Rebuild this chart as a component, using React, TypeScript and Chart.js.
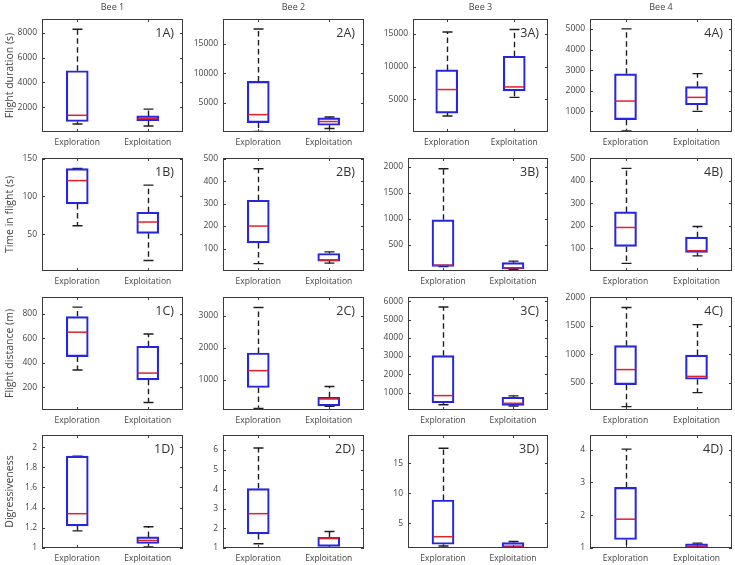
import React, { useEffect, useRef } from 'react';
import { Chart, registerables } from 'chart.js';

Chart.register(...registerables);

// ---------------- data ----------------
const categories = ['Exploration', 'Exploitation'];
const beeTitles = ['Bee 1', 'Bee 2', 'Bee 3', 'Bee 4'];
const metricLabels = ['Flight duration (s)', 'Time in flight (s)', 'Flight distance (m)', 'Digressiveness'];
const rowLetters = ['A', 'B', 'C', 'D'];

// five-number summaries per bee: [lower whisker, Q1, median, Q3, upper whisker]
const durationExploration = [[650, 850, 1350, 4950, 8300], [100, 1600, 2950, 8600, 17500], [2450, 2900, 6500, 9500, 15300], [50, 600, 1500, 2820, 5000]];
const durationExploitation = [[480, 920, 1080, 1300, 1850], [600, 1150, 1780, 2400, 2550], [5300, 6300, 6900, 11600, 15700], [1000, 1320, 1680, 2200, 2830]];
const timeExploration = [[61, 90, 121, 137, 137], [33, 125, 200, 315, 455], [85, 90, 110, 980, 1960], [34, 109, 193, 262, 455]];
const timeExploitation = [[15, 51, 66, 79, 115], [35, 44, 48, 78, 85], [30, 40, 60, 160, 190], [67, 82, 90, 150, 197]];
const distanceExploration = [[340, 450, 650, 778, 855], [90, 750, 1280, 1835, 3270], [330, 430, 830, 3020, 5690], [80, 465, 730, 1150, 1820]];
const distanceExploitation = [[75, 260, 315, 535, 635], [160, 170, 390, 440, 780], [260, 290, 408, 740, 815], [325, 560, 610, 985, 1520]];
const digressExploration = [[1.17, 1.22, 1.34, 1.91, 1.91], [1.22, 1.72, 2.75, 4.03, 6.1], [1.25, 1.54, 2.8, 8.9, 17.5], [1.0, 1.26, 1.88, 2.85, 4.02]];
const digressExploitation = [[1.01, 1.045, 1.075, 1.11, 1.21], [1.0, 1.085, 1.5, 1.54, 1.84], [1.0, 1.04, 1.09, 1.82, 2.0], [1.03, 1.04, 1.06, 1.13, 1.15]];

// axis limits and ticks per bee
const durationYMin = [0, 0, 0, 0];
const durationYMax = [9130, 19200, 17300, 5480];
const durationTicks = [[2000, 4000, 6000, 8000], [5000, 10000, 15000], [5000, 10000, 15000], [1000, 2000, 3000, 4000, 5000]];
const timeYMin = [1, 0, 0, 0];
const timeYMax = [151, 503, 2165, 501];
const timeTicks = [[50, 100, 150], [100, 200, 300, 400, 500], [500, 1000, 1500, 2000], [100, 200, 300, 400, 500]];
const distanceYMin = [13, 40, 40, 20];
const distanceYMax = [938, 3600, 6240, 2005];
const distanceTicks = [[200, 400, 600, 800], [1000, 2000, 3000], [1000, 2000, 3000, 4000, 5000, 6000], [500, 1000, 1500, 2000]];
const digressYMin = [1, 1, 0.92, 1];
const digressYMax = [2.12, 6.76, 19.7, 4.45];
const digressTicks = [[1, 1.2, 1.4, 1.6, 1.8, 2], [1, 2, 3, 4, 5, 6], [5, 10, 15], [1, 2, 3, 4]];

const rowsExploration = [durationExploration, timeExploration, distanceExploration, digressExploration];
const rowsExploitation = [durationExploitation, timeExploitation, distanceExploitation, digressExploitation];
const rowsYMin = [durationYMin, timeYMin, distanceYMin, digressYMin];
const rowsYMax = [durationYMax, timeYMax, distanceYMax, digressYMax];
const rowsTicks = [durationTicks, timeTicks, distanceTicks, digressTicks];

// ---------------- layout / style ----------------
const FONT = '"Open Sans", "Noto Sans", sans-serif';
const TEXT = '#444444';
const FRAME = '#3a3a3a';
const BOX_BLUE = '#2626e0';
const MEDIAN_RED = '#e0202a';
const WHISKER = '#1e1e1e';

const colLeft = [42, 223, 408, 590];
const colWidth = [141, 141, 140, 142];
const rowTop = [19, 158, 297, 435];
const rowHeight = 113;
const Y_AXIS_W = 42;
const TOP_PAD = 19;
const RIGHT_PAD = 4;
const X_AXIS_H = 22;

function geometry(row: number, col: number) {
  let left = colLeft[col];
  let width = colWidth[col];
  if (row === 0 && col === 2) {
    left = 413;
    width = 135;
  }
  return { left, width, top: rowTop[row], height: rowHeight };
}

function makePlugin(stats: number[][], panelLabel: string, title: string | null) {
  return {
    id: 'boxParts',
    beforeDatasetsDraw(chart: any) {
      const { ctx, chartArea: a } = chart;
      const y = chart.scales.y;
      const meta = chart.getDatasetMeta(0);
      ctx.save();
      ctx.beginPath();
      ctx.rect(a.left, a.top, a.right - a.left, a.bottom - a.top);
      ctx.clip();
      meta.data.forEach((bar: any, i: number) => {
        const s = stats[i];
        const cx = Math.round(bar.x) + 0.5;
        const yLo = y.getPixelForValue(s[0]);
        const yQ1 = y.getPixelForValue(s[1]);
        const yQ3 = y.getPixelForValue(s[3]);
        const yHi = y.getPixelForValue(s[4]);
        ctx.strokeStyle = WHISKER;
        ctx.lineWidth = 1.4;
        ctx.setLineDash([5.5, 3.5]);
        ctx.beginPath();
        ctx.moveTo(cx, yQ3);
        ctx.lineTo(cx, yHi);
        ctx.moveTo(cx, yQ1);
        ctx.lineTo(cx, yLo);
        ctx.stroke();
        ctx.setLineDash([]);
        ctx.beginPath();
        ctx.moveTo(cx - 5, yHi);
        ctx.lineTo(cx + 5, yHi);
        ctx.moveTo(cx - 5, yLo);
        ctx.lineTo(cx + 5, yLo);
        ctx.stroke();
      });
      ctx.restore();
    },
    afterDatasetsDraw(chart: any) {
      const { ctx } = chart;
      const y = chart.scales.y;
      const meta = chart.getDatasetMeta(0);
      ctx.save();
      meta.data.forEach((bar: any, i: number) => {
        const ym = y.getPixelForValue(stats[i][2]);
        ctx.strokeStyle = MEDIAN_RED;
        ctx.lineWidth = 1.5;
        ctx.beginPath();
        ctx.moveTo(bar.x - bar.width / 2 + 1, ym);
        ctx.lineTo(bar.x + bar.width / 2 - 1, ym);
        ctx.stroke();
      });
      ctx.restore();
    },
    afterDraw(chart: any) {
      const { ctx, chartArea: a } = chart;
      const x = chart.scales.x;
      const y = chart.scales.y;
      ctx.save();
      ctx.strokeStyle = FRAME;
      ctx.lineWidth = 1;
      ctx.strokeRect(a.left + 0.5, a.top + 0.5, a.right - a.left - 1, a.bottom - a.top - 1);
      ctx.beginPath();
      y.ticks.forEach((t: any, i: number) => {
        const py = Math.round(y.getPixelForTick(i)) + 0.5;
        ctx.moveTo(a.left, py);
        ctx.lineTo(a.left + 3, py);
        ctx.moveTo(a.right, py);
        ctx.lineTo(a.right - 3, py);
      });
      x.ticks.forEach((t: any, i: number) => {
        const px = Math.round(x.getPixelForTick(i)) + 0.5;
        ctx.moveTo(px, a.bottom);
        ctx.lineTo(px, a.bottom - 3);
        ctx.moveTo(px, a.top);
        ctx.lineTo(px, a.top + 3);
      });
      ctx.stroke();
      ctx.fillStyle = '#333333';
      ctx.font = `12.5px ${FONT}`;
      ctx.textAlign = 'right';
      ctx.textBaseline = 'alphabetic';
      ctx.fillText(panelLabel, a.right - 9, a.top + 18);
      if (title) {
        ctx.fillStyle = TEXT;
        ctx.font = `9px ${FONT}`;
        ctx.textAlign = 'center';
        ctx.textBaseline = 'middle';
        ctx.fillText(title, (a.left + a.right) / 2, a.top - 11.5);
      }
      ctx.restore();
    },
  };
}

function Panel({ row, col }: { row: number; col: number }) {
  const ref = useRef<HTMLCanvasElement | null>(null);
  const g = geometry(row, col);
  const cw = Y_AXIS_W + g.width + RIGHT_PAD;
  const ch = TOP_PAD + g.height + X_AXIS_H;

  useEffect(() => {
    if (!ref.current) return;
    const expl = rowsExploration[row][col];
    const expt = rowsExploitation[row][col];
    const stats = [expl, expt];
    const tickValues = rowsTicks[row][col];
    const chart = new Chart(ref.current, {
      type: 'bar',
      data: {
        labels: categories,
        datasets: [
          {
            data: stats.map((s) => [s[1], s[3]]),
            backgroundColor: 'rgba(255,255,255,0)',
            borderColor: BOX_BLUE,
            borderWidth: 1.5,
            borderSkipped: false,
            barThickness: 22,
          } as any,
        ],
      },
      options: {
        responsive: false,
        animation: false,
        events: [],
        layout: {
          autoPadding: false,
          padding: { top: TOP_PAD, right: RIGHT_PAD, bottom: 0, left: 0 },
        } as any,
        plugins: {
          legend: { display: false },
          tooltip: { enabled: false },
        },
        scales: {
          x: {
            type: 'category',
            grid: { display: false, drawTicks: false, tickLength: 0 },
            border: { display: false },
            ticks: {
              color: TEXT,
              font: { size: 8.5, family: FONT },
              padding: 5,
              maxRotation: 0,
              autoSkip: false,
            },
            afterFit: (s: any) => {
              s.height = X_AXIS_H;
            },
          },
          y: {
            type: 'linear',
            min: rowsYMin[row][col],
            max: rowsYMax[row][col],
            grid: { display: false, drawTicks: false, tickLength: 0 },
            border: { display: false },
            title: {
              display: col === 0,
              text: metricLabels[row],
              color: TEXT,
              font: { size: 10.5, family: FONT },
              padding: { top: 4, bottom: 0 },
            },
            ticks: {
              color: TEXT,
              font: { size: 8.5, family: FONT },
              padding: 5,
              callback: (v: any) => String(Math.round(Number(v) * 1000) / 1000),
            },
            afterBuildTicks: (s: any) => {
              s.ticks = tickValues.map((v) => ({ value: v }));
            },
            afterFit: (s: any) => {
              s.width = Y_AXIS_W;
            },
          },
        },
      } as any,
      plugins: [makePlugin(stats, `${col + 1}${rowLetters[row]})`, row === 0 ? beeTitles[col] : null)],
    });
    return () => chart.destroy();
  }, [row, col]);

  return (
    <canvas
      ref={ref}
      width={cw}
      height={ch}
      style={{
        position: 'absolute',
        left: g.left - Y_AXIS_W,
        top: g.top - TOP_PAD,
        width: cw,
        height: ch,
      }}
    />
  );
}

export default function App() {
  Chart.defaults.font.family = FONT;
  const panels: React.ReactNode[] = [];
  for (let r = 0; r < 4; r++) {
    for (let c = 0; c < 4; c++) {
      panels.push(<Panel key={`${r}-${c}`} row={r} col={c} />);
    }
  }
  return (
    <div
      style={{
        position: 'absolute',
        left: 0,
        top: 0,
        width: 735,
        height: 565,
        overflow: 'hidden',
        background: '#ffffff',
      }}
    >
      {panels}
    </div>
  );
}
